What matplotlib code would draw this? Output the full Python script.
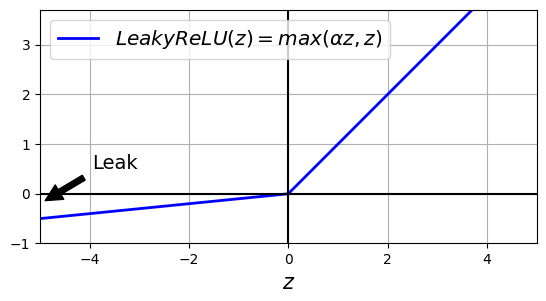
import numpy as np
import matplotlib
matplotlib.use("Agg")
import matplotlib.pyplot as plt

z_points = [-5.0, 0.0, 5.0]
y_points = [-0.5, 0.0, 5.0]
x_limits = [-5, 5]
y_limits = [-1, 3.7]

fig = plt.figure(figsize=(5.46, 3.01), dpi=100)
ax = fig.add_axes([40/546, 57.5/301, 496.5/546, 233.5/301])
ax.plot(z_points, y_points, "b-", linewidth=2, label=r"$LeakyReLU(z) = max(\alpha z, z)$")
ax.plot(x_limits, [0, 0], 'k-')
ax.plot([0, 0], y_limits, 'k-')
ax.grid(True)
props = dict(facecolor='black', shrink=0.1)
ax.annotate('Leak', xytext=(-3.5, 0.5), xy=(-5, -0.2), arrowprops=props, fontsize=14, ha="center")
ax.set_xlabel("$z$", fontsize=15)
ax.axis([x_limits[0], x_limits[1], y_limits[0], y_limits[1]])
ax.set_aspect("equal")
ax.legend(loc="upper left", fontsize=14.5)
fig.savefig("out.png", dpi=100)
